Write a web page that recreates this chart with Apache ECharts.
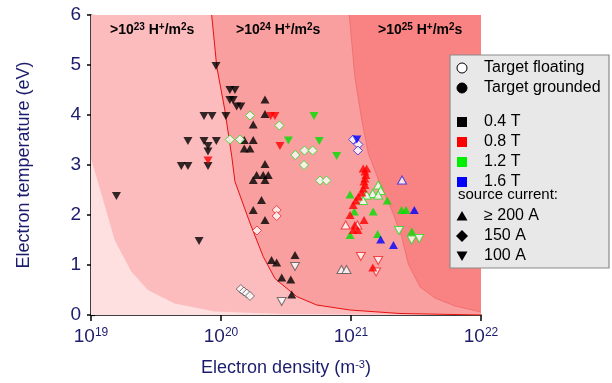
<!DOCTYPE html>
<html>
<head>
<meta charset="utf-8">
<script src="https://cdn.jsdelivr.net/npm/echarts@6/dist/echarts.min.js"></script>
<style>
html, body { margin: 0; padding: 0; background: #fff; }
#chart { width: 612px; height: 383px; }
</style>
</head>
<body>
<div id="chart"></div>
<script>
// flux boundaries, [density m^-3, Te eV]
const flux23 = [[1e19, 3.13], [1.24e19, 2.3], [1.52e19, 1.5], [2.04e19, 0.87], [2.74e19, 0.5], [4.4e19, 0.23], [8.95e19, 0.07], [3e20, 0.02], [1e22, 0]]
const flux24 = [[8.48e19, 6], [9.27e19, 4.97], [1.07e20, 4.1], [1.21e20, 3.17], [1.28e20, 2.67], [1.67e20, 1.84], [2.11e20, 1.17], [2.6e20, 0.73], [3.82e20, 0.37], [5.45e20, 0.2], [9.83e20, 0.1], [2.38e21, 0.03], [1e22, 0]]
const flux25 = [[9.7e20, 6], [1.07e21, 4.77], [1.21e21, 3.9], [1.36e21, 3.23], [1.67e21, 2.63], [2.06e21, 2.1], [2.45e21, 1.57], [2.76e21, 1.02], [3.4e21, 0.56], [4.43e21, 0.34], [6.31e21, 0.18], [1e22, 0.06]]

// 0.4 T
const k_up = [[2.18e20, 4.31], [2.18e20, 4.02], [1.77e20, 3.81], [1.51e20, 3.5], [1.77e20, 3.5], [1.51e20, 3.33], [1.67e20, 3.33], [2.18e20, 3.02], [1.88e20, 2.8], [2.11e20, 2.8], [2.31e20, 2.8], [1.77e20, 2.7], [2.18e20, 2.7], [2.05e20, 2.3], [1.77e20, 2.1], [2.18e20, 1.9], [2.45e20, 1.1], [2.68e20, 1.05], [3.71e20, 1.2], [2.93e20, 0.75], [3.44e20, 0.71], [3.5e20, 0.41]]
const k_down = [[9.15e19, 4.98], [1.17e20, 4.5], [1.28e20, 4.5], [1.17e20, 4.3], [1.24e20, 4.3], [1.32e20, 4.17], [1.42e20, 4.17], [7.4e19, 3.98], [8.53e19, 3.98], [1.09e20, 3.98], [5.57e19, 3.48], [7.4e19, 3.48], [9.2e19, 3.48], [7.94e19, 3.38], [7.94e19, 3.27], [7.94e19, 2.98], [4.95e19, 2.98], [5.57e19, 2.98], [1.57e19, 2.38], [6.78e19, 1.48]]
const k_up_open = [[8.45e20, 0.91], [9.23e20, 0.91]]
const k_dia_open = [[1.42e20, 0.52], [1.5e20, 0.47], [1.58e20, 0.43], [1.67e20, 0.38]]
const k_down_open = [[3.71e20, 0.97], [2.93e20, 0.27]]

// 0.8 T
const r_up = [[1.24e21, 2.93], [1.32e21, 2.93], [1.28e21, 2.87], [1.3e21, 2.8], [1.28e21, 2.73], [1.26e21, 2.67], [1.28e21, 2.6], [1.24e21, 2.53], [1.21e21, 2.45], [1.14e21, 2.37], [1.09e21, 2.29], [1.04e21, 2.2], [9.83e20, 2.0], [1.26e21, 1.9], [1.07e21, 1.8], [1.13e21, 1.7], [1.04e21, 1.7], [1.47e21, 0.95]]
const r_down = [[7.95e19, 3.09], [2.41e20, 3.98], [2.6e20, 3.98], [2.84e20, 3.38]]
const r_up_open = [[9.1e20, 1.8], [1.12e21, 1.8]]
const r_dia_open = [[2.68e20, 2.1], [2.68e20, 1.98], [1.89e20, 1.69]]
const r_down_open = [[1.19e21, 1.17], [1.62e21, 1.09], [1.56e21, 0.86]]

// 1.2 T
const g_up = [[9.83e20, 2.41], [1.06e21, 2.07], [1.48e21, 2.07], [1.9e21, 2.29], [2.45e21, 2.1], [2.65e21, 2.1], [1.6e21, 1.62], [2.93e21, 1.67], [9.83e20, 1.6]]
const g_down = [[5.19e20, 3.98], [3.3e20, 3.49], [5.7e20, 3.48], [7.76e20, 3.18]]
const g_up_open = [[1.62e21, 2.6], [1.69e21, 2.49], [1.47e21, 2.43], [1.62e21, 2.4], [1.32e21, 2.4], [1.24e21, 2.29]]
const g_dia_open = [[1.67e20, 3.99], [2.81e20, 3.79], [1.17e20, 3.51], [1.4e20, 3.51], [3.73e20, 3.2], [4.39e20, 3.29], [5.07e20, 3.29], [4.35e20, 3.0], [5.78e20, 2.69], [6.48e20, 2.69]]
const g_down_open = [[2.34e21, 1.69], [2.93e21, 1.5], [3.35e21, 1.53]]

// 1.6 T
const b_up = [[3.07e21, 2.1], [1.69e21, 1.51], [2.12e21, 1.4]]
const b_down = [[1.11e21, 3.51]]
const b_up_open = [[2.47e21, 2.7]]
const b_dia_open = [[1.04e21, 3.51], [1.14e21, 3.41], [1.13e21, 3.29]]

const X_MIN = 1e19, X_MAX = 1e22, Y_MAX = 6
const NAVY = '#1c1c6c'
const FONT = 'Arial, "Liberation Sans", sans-serif'

let minorVals = []
for (let e = 19; e < 22; e++) {
  for (let m = 2; m <= 9; m++) minorVals.push(m * Math.pow(10, e))
}

function area(data, color) {
  return {
    type: 'line', data: data, symbol: 'none', silent: true,
    lineStyle: { width: 0, opacity: 0 },
    areaStyle: { color: color, opacity: 1, origin: 'start' },
    z: 1
  }
}

function marks(data, color, shape, open) {
  return {
    type: 'scatter', data: data, z: 5,
    symbol: shape === 'dia' ? 'diamond' : 'triangle',
    symbolSize: shape === 'dia' ? [9, 9] : [9, 8],
    symbolRotate: shape === 'down' ? 180 : 0,
    itemStyle: open
      ? { color: '#ffffff', borderColor: color, borderWidth: 1 }
      : { color: color, borderWidth: 0 }
  }
}

const chart = echarts.init(document.getElementById('chart'), null, { renderer: 'canvas' })

let option = {
  animation: false,
  backgroundColor: '#ffffff',
  grid: { left: 91, right: 131, top: 15, bottom: 68, show: true, backgroundColor: '#f98383', borderWidth: 0 },
  xAxis: [
    {
      type: 'log', logBase: 10, min: X_MIN, max: X_MAX,
      splitLine: { show: false },
      axisLine: { lineStyle: { color: '#000', width: 1.5 } },
      axisTick: { length: 6, lineStyle: { color: '#000', width: 1.5 } },
      axisLabel: {
        margin: 12, color: NAVY,
        formatter: v => '{b|10}{s|' + Math.round(Math.log10(v)) + '}',
        rich: {
          b: { fontSize: 19, fontFamily: FONT, color: NAVY },
          s: { fontSize: 12, fontFamily: FONT, color: NAVY, padding: [0, 0, 8, 0] }
        }
      },
      name: 'Electron density (m{s|-3})',
      nameLocation: 'middle', nameGap: 44,
      nameTextStyle: {
        fontSize: 18, fontFamily: FONT, color: NAVY,
        rich: { s: { fontSize: 11, color: NAVY, padding: [0, 0, 8, 0], fontFamily: FONT } }
      }
    },
    {
      type: 'log', logBase: 10, min: X_MIN, max: X_MAX,
      splitLine: { show: false },
      axisLine: { show: false },
      axisLabel: { show: false },
      axisTick: { customValues: minorVals, length: 3, lineStyle: { color: '#000', width: 1.2 } }
    }
  ],
  yAxis: [
    {
      type: 'value', min: 0, max: Y_MAX, interval: 1, position: 'left',
      splitLine: { show: false },
      axisLine: { show: true, lineStyle: { color: '#000', width: 1.5 } },
      axisTick: { show: true, length: 4, lineStyle: { color: '#000', width: 1.5 } },
      axisLabel: { margin: 10, fontSize: 19, fontFamily: FONT, color: NAVY },
      name: 'Electron temperature (eV)',
      nameLocation: 'middle', nameGap: 58, nameRotate: 90,
      nameTextStyle: { fontSize: 18, fontFamily: FONT, color: NAVY }
    },
    {
      type: 'value', min: 0, max: Y_MAX, interval: 0.5, position: 'left', offset: 0,
      splitLine: { show: false },
      axisLine: { show: false },
      axisLabel: { show: false },
      axisTick: { show: true, inside: true, length: 4, lineStyle: { color: '#000', width: 1.2 } }
    }
  ],
  series: [
    area([[X_MIN, Y_MAX]].concat(flux25), '#fa9f9f'),
    area([[X_MIN, Y_MAX]].concat(flux24), '#fcbbbd'),
    area(flux23, '#fde0df'),
    { type: 'line', data: flux24, symbol: 'none', silent: true, z: 2, lineStyle: { color: '#e81010', width: 1 } },
    { type: 'line', data: flux25, symbol: 'none', silent: true, z: 2, lineStyle: { color: '#f06a6a', width: 0.8 } },

    marks(k_down, '#000000', 'down', false),
    marks(k_up, '#000000', 'up', false),
    marks(k_up_open, '#555555', 'up', true),
    marks(k_dia_open, '#555555', 'dia', true),
    marks(k_down_open, '#555555', 'down', true),

    marks(g_dia_open, '#22dd22', 'dia', true),
    marks(g_down, '#00e000', 'down', false),
    marks(g_up, '#00e000', 'up', false),
    marks(g_up_open, '#22dd22', 'up', true),
    marks(g_down_open, '#22dd22', 'down', true),

    marks(r_down, '#ff0000', 'down', false),
    marks(r_dia_open, '#ee2222', 'dia', true),
    marks(r_down_open, '#ee2222', 'down', true),
    marks(r_up_open, '#ee2222', 'up', true),
    marks(r_up, '#ff0000', 'up', false),

    marks(b_dia_open, '#2222ee', 'dia', true),
    marks(b_down, '#0000ff', 'down', false),
    marks(b_up, '#0000ff', 'up', false),
    marks(b_up_open, '#2222ee', 'up', true)
  ],
  graphic: []
}

// flux region labels
const regionRich = {
  t: { fontSize: 14, fontWeight: 'bold', fontFamily: FONT, color: '#111' },
  s: { fontSize: 10, fontWeight: 'bold', fontFamily: FONT, color: '#111', padding: [0, 0, 6, 0] }
}
;[[110, '23'], [236, '24'], [378, '25']].forEach(([x, p]) => {
  option.graphic.push({
    type: 'text', left: x, top: 22, z: 10,
    style: { text: '{t|>10}{s|' + p + '}{t| H}{s|+}{t|/m}{s|2}{t|s}', rich: regionRich }
  })
})

// legend box
const lx = 462
let items = [
  { y: 68, shape: 'circle', fill: '#fff', stroke: '#000', text: 'Target floating' },
  { y: 88, shape: 'circle', fill: '#000', stroke: '#000', text: 'Target grounded' },
  { y: 122, shape: 'rect', fill: '#000', text: '0.4 T' },
  { y: 142, shape: 'rect', fill: '#ff0000', text: '0.8 T' },
  { y: 162, shape: 'rect', fill: '#00ee00', text: '1.2 T' },
  { y: 182, shape: 'rect', fill: '#0000ff', text: '1.6 T' },
  { y: 216, shape: 'up', fill: '#000', text: '\u2265 200 A' },
  { y: 236, shape: 'dia', fill: '#000', text: '150 A' },
  { y: 256, shape: 'down', fill: '#000', text: '100 A' }
]
let legendEls = [
  { type: 'rect', shape: { x: 450, y: 55, width: 159, height: 213 }, style: { fill: '#e8e8e8', stroke: '#8a8a8a', lineWidth: 1.2 } },
  { type: 'text', x: 458, y: 195, style: { text: 'source current:', font: '15px ' + FONT, fill: '#000', verticalAlign: 'middle' } }
]
items.forEach(it => {
  let sym
  if (it.shape === 'circle') sym = { type: 'circle', shape: { cx: lx, cy: it.y, r: 5 }, style: { fill: it.fill, stroke: it.stroke, lineWidth: 1 } }
  else if (it.shape === 'rect') sym = { type: 'rect', shape: { x: lx - 5, y: it.y - 5, width: 10, height: 10 }, style: { fill: it.fill } }
  else if (it.shape === 'up') sym = { type: 'polygon', shape: { points: [[lx, it.y - 5], [lx + 5.5, it.y + 4.5], [lx - 5.5, it.y + 4.5]] }, style: { fill: it.fill } }
  else if (it.shape === 'down') sym = { type: 'polygon', shape: { points: [[lx - 5.5, it.y - 4.5], [lx + 5.5, it.y - 4.5], [lx, it.y + 5]] }, style: { fill: it.fill } }
  else sym = { type: 'polygon', shape: { points: [[lx, it.y - 6], [lx + 6, it.y], [lx, it.y + 6], [lx - 6, it.y]] }, style: { fill: it.fill } }
  legendEls.push(sym)
  legendEls.push({ type: 'text', x: 484, y: it.y, style: { text: it.text, font: '16px ' + FONT, fill: '#000', verticalAlign: 'middle' } })
})
option.graphic.push({ type: 'group', z: 20, children: legendEls })

chart.setOption(option)
</script>
</body>
</html>
